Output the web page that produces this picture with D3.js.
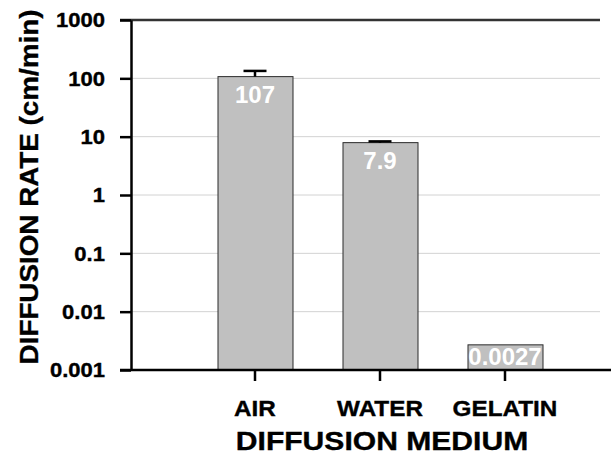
<!DOCTYPE html>
<html>
<head>
<meta charset="utf-8">
<script src="https://cdn.jsdelivr.net/npm/d3@7/dist/d3.min.js"></script>
<style>
  html, body { margin: 0; padding: 0; background: #fff; }
  svg { display: block; }
  svg text { font-family: "Liberation Sans", Arial, sans-serif; font-weight: bold; }
  .dark { fill: #000; stroke: #000; stroke-width: 0.35px; }
</style>
</head>
<body>
<svg id="chart" width="611" height="454"></svg>
<script>
// Diffusion rate by medium (cm/min), log scale
const categories = ["AIR", "WATER", "GELATIN"];
const rates = [107, 7.9, 0.0027];
const rateLabels = ["107", "7.9", "0.0027"];
const errors = [27, 0.4, 0];
const yTicks = [0.001, 0.01, 0.1, 1, 10, 100, 1000];
const yTickLabels = ["0.001", "0.01", "0.1", "1", "10", "100", "1000"];

const svg = d3.select("#chart");
const plotLeft = 131, plotTop = 20, plotBottom = 370;

const x = d3.scaleBand().domain(categories).range([130, 630])
  .paddingInner(0.4).paddingOuter(0.7);
const y = d3.scaleLog().domain([0.001, 1000]).range([plotBottom, plotTop]);

// horizontal gridlines
svg.append("g").selectAll("line").data(yTicks.slice(1, -1)).join("line")
  .attr("x1", plotLeft).attr("x2", 600)
  .attr("y1", d => y(d)).attr("y2", d => y(d))
  .attr("stroke", "#d2d2d2").attr("stroke-width", 1);

// top line at the axis maximum
svg.append("line")
  .attr("x1", 120).attr("x2", 600)
  .attr("y1", y(1000)).attr("y2", y(1000))
  .attr("stroke", "#333").attr("stroke-width", 2.5);

// bars
svg.append("g").selectAll("rect").data(categories).join("rect")
  .attr("x", d => x(d) + 0.5)
  .attr("y", (d, i) => y(rates[i]))
  .attr("width", x.bandwidth())
  .attr("height", (d, i) => plotBottom - y(rates[i]))
  .attr("fill", "#c0c0c0")
  .attr("stroke", "#2a2a2a").attr("stroke-width", 1);

// error bars (upper)
const eb = svg.append("g").attr("stroke", "#000").attr("stroke-width", 2.5);
categories.forEach((c, i) => {
  if (!errors[i]) return;
  const cx = x(c) + x.bandwidth() / 2;
  const yt = y(rates[i] + errors[i]);
  eb.append("line").attr("x1", cx).attr("x2", cx)
    .attr("y1", y(rates[i])).attr("y2", yt);
  eb.append("line").attr("x1", cx - 11.5).attr("x2", cx + 11.5)
    .attr("y1", yt).attr("y2", yt);
});

// value labels inside bars
svg.append("g").selectAll("text").data(categories).join("text")
  .attr("x", d => x(d) + x.bandwidth() / 2)
  .attr("y", (d, i) => Math.min(y(rates[i]) + 26, plotBottom - 5))
  .attr("text-anchor", "middle")
  .attr("fill", "#fff")
  .style("font-size", "24px")
  .text((d, i) => rateLabels[i]);

// y axis
const yAxis = svg.append("g").attr("transform", `translate(${plotLeft},0)`)
  .call(d3.axisLeft(y).tickValues(yTicks).tickFormat((d, i) => yTickLabels[i])
    .tickSize(11).tickSizeOuter(0));
yAxis.attr("font-family", null).attr("font-size", null);
yAxis.select(".domain").attr("stroke", "#000").attr("stroke-width", 2.5);
yAxis.selectAll(".tick line").attr("stroke", "#000").attr("stroke-width", 2.5);
yAxis.selectAll(".tick text")
  .attr("x", 0).attr("dy", "0.35em")
  .attr("class", "dark")
  .style("font-size", "19.5px")
  .attr("transform", "translate(-26,0) scale(1.13,1)");

// x axis
svg.append("line").attr("x1", 120).attr("x2", 611)
  .attr("y1", plotBottom).attr("y2", plotBottom)
  .attr("stroke", "#000").attr("stroke-width", 2.5);
const xAxis = svg.append("g").attr("transform", `translate(0,${plotBottom})`)
  .call(d3.axisBottom(x).tickSize(11).tickSizeOuter(0).tickPadding(0));
xAxis.attr("font-family", null).attr("font-size", null);
xAxis.select(".domain").remove();
xAxis.selectAll(".tick line").attr("stroke", "#000").attr("stroke-width", 2.5);
xAxis.selectAll(".tick text")
  .attr("y", 0).attr("dy", null)
  .attr("class", "dark")
  .style("font-size", "22.5px")
  .attr("transform", "translate(0,46) scale(1.08,1)");

// axis titles
svg.append("text")
  .attr("class", "dark")
  .attr("transform", "translate(382,450) scale(1.18,1)")
  .attr("text-anchor", "middle")
  .style("font-size", "25.5px")
  .text("DIFFUSION MEDIUM");

svg.append("text")
  .attr("class", "dark")
  .attr("transform", "translate(37.5,187) rotate(-90) scale(1.05,1)")
  .attr("text-anchor", "middle")
  .style("font-size", "26.5px")
  .text("DIFFUSION RATE (cm/min)");
</script>
</body>
</html>
